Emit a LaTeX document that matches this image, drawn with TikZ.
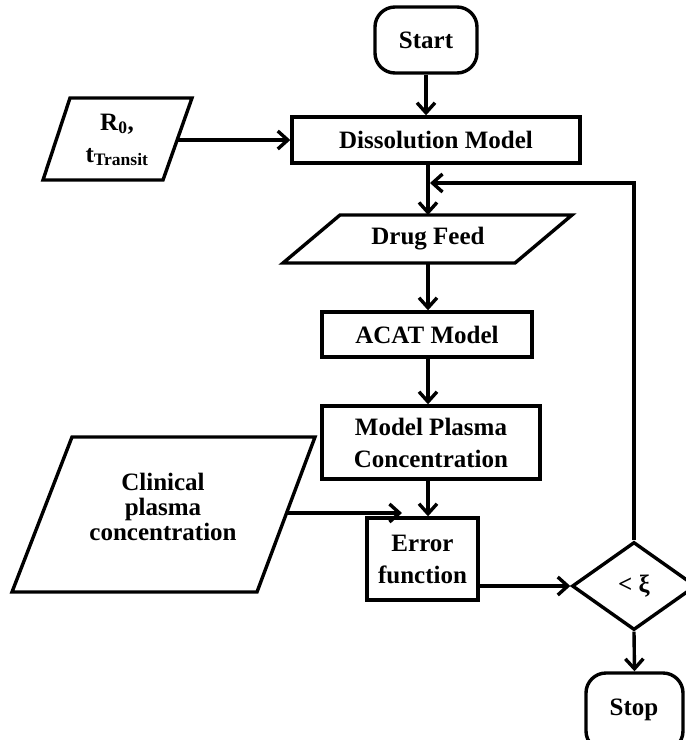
\documentclass[tikz,border=0pt]{standalone}
\usepackage{fontspec}
\setmainfont{Liberation Serif}
\usetikzlibrary{arrows.meta,shapes.geometric}
\begin{document}
\begin{tikzpicture}[x=1pt,y=-1pt,
  line width=3.4pt,
  every node/.style={font=\bfseries\fontsize{25}{32}\selectfont, align=center},
  arr/.style={-{Straight Barb[length=10pt,width=18pt,line width=3.4pt]}},
  box/.style={draw, rectangle, inner sep=0pt},
  term/.style={draw, rectangle, rounded corners=20pt, inner sep=0pt},
  txt/.style={inner sep=0pt}]
\useasboundingbox (0,0) rectangle (686,740);
\clip (0,0) rectangle (686,740);
% terminals and boxes
\node[term, minimum width=102pt, minimum height=66pt] (start) at (426,40) {Start};
\node[box, minimum width=288pt, minimum height=46pt] (dm) at (436,140) {Dissolution Model};
\node[box, minimum width=210pt, minimum height=45pt] (acat) at (427,334.5) {ACAT Model};
\node[box, minimum width=218pt, minimum height=73pt] (mpc) at (431,442.5) {Model Plasma\\Concentration};
\node[box, minimum width=111pt, minimum height=82pt] (err) at (422.5,559) {Error\\function};
\node[draw, diamond, aspect=1.41, minimum width=124pt, minimum height=88pt, inner sep=0pt] (dec) at (634,586) {< ξ};
\node[term, minimum width=97pt, minimum height=78pt] (stop) at (634.5,712) {};
\node[txt] (stoptxt) at (634,710) {Stop};
% parallelograms
\draw[line join=miter] (70,98) -- (192,98) -- (163,180) -- (43,180) -- cycle;
\node[txt] (r0) at (117,140) {R\textsubscript{0},\\t\textsubscript{Transit}};
\coordinate (r0e) at (178,140);
\draw (340,215) -- (572,215) -- (515,263) -- (283,263) -- cycle;
\node[txt] (df) at (428,239) {Drug Feed};
\coordinate (dfn) at (428,215);
\coordinate (dfs) at (428,263);
\draw (72,437) -- (315,437) -- (257,592) -- (12,592) -- cycle;
\node[txt, font=\bfseries\fontsize{25}{25}\selectfont] (cp) at (163,507) {Clinical\\plasma\\concentration};
\coordinate (cpe) at (287,513);
\coordinate (cpt) at (402,513);
% connectors
\draw[arr] (start.south) -- (start.south |- dm.north);
\draw[arr] (r0e) -- (dm.west);
\draw[arr] (dm.south -| dfn) -- (dfn);
\coordinate (loop) at (634,183);
\draw[arr] (dec.north) -- (loop) -- (430,183);
\draw[arr] (dfs) -- (dfs |- acat.north);
\draw[arr] (acat.south -| dfs) -- (dfs |- mpc.north);
\draw[arr] (mpc.south -| dfs) -- (dfs |- err.north);
\draw[arr] (cpe) -- (cpt);
\draw[arr] (err.east |- dec.west) -- (dec.west);
\draw[arr] (dec.south) -- (stop.north);
\end{tikzpicture}
\end{document}
